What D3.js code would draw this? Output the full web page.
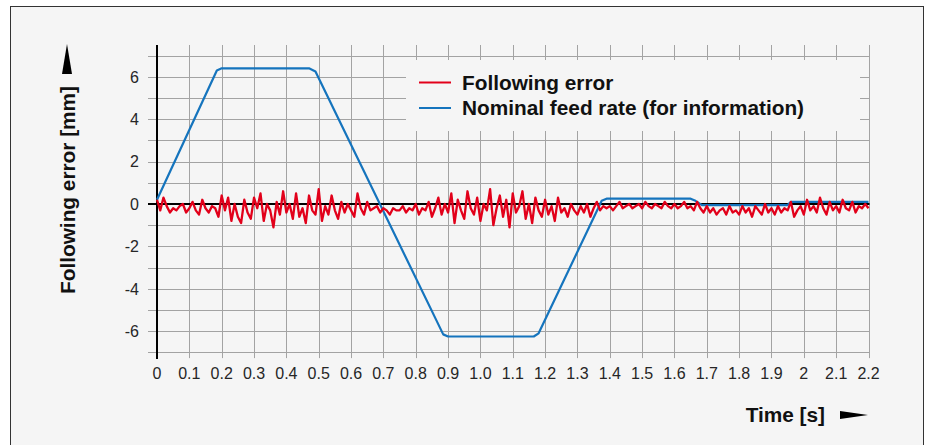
<!DOCTYPE html>
<html>
<head>
<meta charset="utf-8">
<script src="https://cdn.jsdelivr.net/npm/d3@7"></script>
<style>
  body { margin: 0; background: #fff; }
  svg { display: block; }
  .tick-label { font-family: 'Liberation Sans', Arial, sans-serif; font-size: 16px; fill: #262626; }
  .bold-label { font-family: 'Liberation Sans', Arial, sans-serif; font-weight: bold; font-size: 20.8px; fill: #111; }
</style>
</head>
<body>
<svg width="930" height="445"></svg>
<script>
// time ticks (s) and following error ticks (mm)
const xTicks = d3.range(0, 23).map(i => i / 10);
const xTickLabels = ['0', '0.1', '0.2', '0.3', '0.4', '0.5', '0.6', '0.7', '0.8', '0.9', '1.0', '1.1',
  '1.2', '1.3', '1.4', '1.5', '1.6', '1.7', '1.8', '1.9', '2', '2.1', '2.2'];
const yTicks = [-6, -4, -2, 0, 2, 4, 6];
const yGrid = d3.range(-7, 8);

// nominal feed rate, corner points
const feedTime = [0, 0.185, 0.2, 0.47, 0.49, 0.885, 0.9, 1.165, 1.18, 1.375, 1.39, 1.65, 1.665, 1.685, 1.95, 1.96, 2.2];
const feedValue = [0.2, 6.3, 6.4, 6.4, 6.25, -6.15, -6.25, -6.25, -6.1, 0.15, 0.25, 0.25, 0.15, -0.05, -0.05, 0.1, 0.1];

// following error, one sample every 0.01 s
const errorStep = 0.01;
const errorValue = [
  0.2, -0.3, 0.3, -0.1, -0.4, -0.2, -0.3, -0.1, 0.0, -0.4,
  -0.2, 0.1, -0.3, -0.5, 0.2, -0.2, -0.4, -0.1, -0.2, -0.6,
  0.4, -0.3, 0.3, -0.8, 0.0, -0.6, -0.9, 0.2, -0.4, -0.7,
  0.3, -0.2, 0.5, -0.8, 0.0, -0.3, -1.1, 0.1, -0.5, 0.6,
  -0.4, 0.0, -0.7, 0.5, -0.6, -0.2, -0.9, 0.4, -0.3, -0.5,
  0.7, -0.8, -0.1, -0.5, 0.4, -0.3, -0.7, 0.1, -0.4, 0.0,
  -0.3, -0.6, 0.5, -0.2, -0.5, 0.1, -0.3, -0.2, -0.1, -0.4,
  -0.2, -0.3, -0.5, -0.2, -0.3, -0.3, -0.1, -0.4, -0.2, -0.3,
  0.0, -0.5, -0.2, -0.3, 0.1, -0.6, -0.2, 0.3, -0.5, 0.0,
  -0.4, 0.5, -0.9, 0.2, -0.3, -0.7, 0.6, -0.2, -0.5, 0.3,
  -0.8, 0.0, -0.3, 0.7, -1.0, -0.2, 0.4, -0.6, 0.2, -1.1,
  0.5, -0.4, -0.1, 0.6, -0.7, 0.0, -0.9, 0.3, -0.3, -0.6,
  0.2, -0.5, -0.1, -0.8, 0.3, -0.4, -0.2, -0.6, 0.0, -0.3,
  -0.5, -0.1, -0.4, 0.0, -0.6, -0.2, 0.1, -0.3, -0.1, -0.2,
  -0.1, -0.3, -0.1, 0.1, -0.2, -0.1, 0.0, -0.2, -0.1, 0.0,
  -0.2, 0.1, -0.1, -0.2, 0.0, -0.1, -0.2, 0.1, -0.1, -0.2,
  0.0, -0.2, -0.1, 0.1, -0.2, -0.1, -0.3, 0.1, -0.2, -0.4,
  -0.1, -0.4, -0.2, -0.5, -0.3, -0.2, -0.5, -0.1, -0.4, -0.3,
  -0.5, -0.1, -0.4, -0.2, -0.6, -0.1, -0.3, -0.5, 0.0, -0.4,
  -0.2, -0.5, -0.1, -0.4, -0.2, -0.3, 0.1, -0.6, -0.3, -0.1,
  -0.5, 0.2, -0.3, -0.1, -0.4, 0.3, -0.2, -0.5, 0.1, -0.3,
  -0.1, -0.4, 0.2, -0.2, -0.3, 0.1, -0.4, -0.1, -0.2, 0.0,
  -0.2
];

const legendLabels = ['Following error', 'Nominal feed rate (for information)'];
const colors = { error: '#e2001a', feed: '#1574bd' };

const svg = d3.select('svg');

// panel background
svg.append('rect')
  .attr('x', 10.5).attr('y', 6.5)
  .attr('width', 913).attr('height', 460)
  .attr('fill', '#f5f5f5')
  .attr('stroke', '#333').attr('stroke-width', 1);

const xScale = d3.scaleLinear().domain([0, 2.2]).range([157, 868.5]);
const yScale = d3.scaleLinear().domain([-7, 7]).range([352.4, 55.6]);

const yTop = yScale(7.5), yBottom = yScale(-7.27);
const xLeft = 148, xRight = xScale(2.2) + 1;

// grid
const grid = svg.append('g').attr('stroke', '#a3a3a3').attr('stroke-width', 1);
grid.selectAll('.vgrid').data(xTicks).join('line')
  .attr('x1', d => Math.round(xScale(d)) + 0.5).attr('x2', d => Math.round(xScale(d)) + 0.5)
  .attr('y1', yTop).attr('y2', yBottom);
grid.selectAll('.hgrid').data(yGrid).join('line')
  .attr('x1', xLeft).attr('x2', xRight)
  .attr('y1', d => Math.round(yScale(d)) + 0.5).attr('y2', d => Math.round(yScale(d)) + 0.5);

// legend box covers grid
svg.append('rect')
  .attr('x', 406).attr('y', 60).attr('width', 454).attr('height', 71)
  .attr('fill', '#f5f5f5');

// axes lines
svg.append('line')
  .attr('x1', xLeft).attr('x2', xRight)
  .attr('y1', yScale(0)).attr('y2', yScale(0))
  .attr('stroke', '#000').attr('stroke-width', 2);
svg.append('line')
  .attr('x1', xScale(0)).attr('x2', xScale(0))
  .attr('y1', yTop).attr('y2', yBottom + 1)
  .attr('stroke', '#000').attr('stroke-width', 2);

// tick labels
svg.selectAll('.xlab').data(xTicks).join('text')
  .attr('class', 'tick-label')
  .attr('x', d => xScale(d)).attr('y', 378.5)
  .attr('text-anchor', 'middle')
  .text((d, i) => xTickLabels[i]);
svg.selectAll('.ylab').data(yTicks).join('text')
  .attr('class', 'tick-label')
  .attr('x', 139).attr('y', d => yScale(d))
  .attr('dy', '0.36em')
  .attr('text-anchor', 'end')
  .text(d => d);

// series
const feedData = feedTime.map((t, i) => ({ t, v: feedValue[i] }));
const errorData = errorValue.map((v, i) => ({ t: i * errorStep, v }));
const lineGen = d3.line().x(d => xScale(d.t)).y(d => yScale(d.v));

svg.append('path')
  .attr('d', lineGen(feedData))
  .attr('fill', 'none').attr('stroke', colors.feed)
  .attr('stroke-width', 2.2).attr('stroke-linejoin', 'round');
svg.append('path')
  .attr('d', lineGen(errorData))
  .attr('fill', 'none').attr('stroke', colors.error)
  .attr('stroke-width', 2.3).attr('stroke-linejoin', 'round');

// legend
const legendColors = [colors.error, colors.feed];
legendLabels.forEach((label, i) => {
  const y = 82.5 + i * 25.5;
  svg.append('line')
    .attr('x1', 419).attr('x2', 451).attr('y1', y).attr('y2', y)
    .attr('stroke', legendColors[i]).attr('stroke-width', 2);
  svg.append('text')
    .attr('class', 'bold-label')
    .attr('x', 462).attr('y', y + 7)
    .text(label);
});

// axis titles with arrows
svg.append('text')
  .attr('class', 'bold-label')
  .attr('transform', 'translate(75,190) rotate(-90)')
  .attr('text-anchor', 'middle')
  .text('Following error [mm]');
svg.append('path')
  .attr('d', 'M67,44 L72,74 L62,74 Z')
  .attr('fill', '#000');

svg.append('text')
  .attr('class', 'bold-label')
  .attr('x', 825).attr('y', 421.5)
  .attr('text-anchor', 'end')
  .text('Time [s]');
svg.append('path')
  .attr('d', 'M868,415 L840,411 L840,419 Z')
  .attr('fill', '#000');
</script>
</body>
</html>
